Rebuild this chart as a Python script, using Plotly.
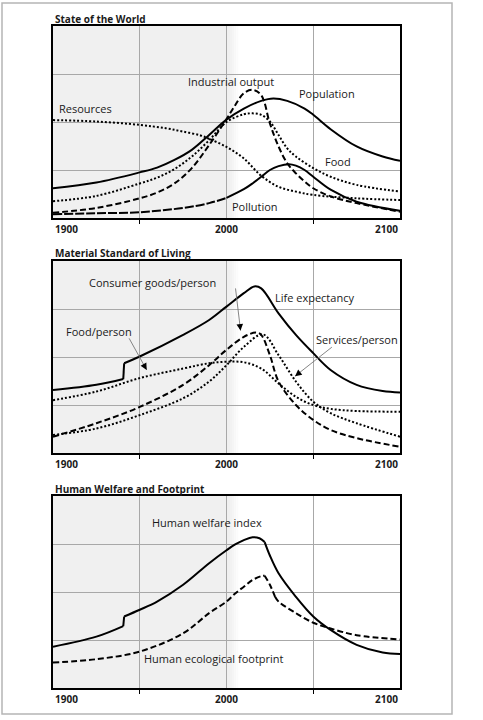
import plotly.graph_objects as go

# ---------------- data ----------------
# Panel 1: State of the World
pop_years = [1900, 1925, 1950, 1960, 1970, 1980, 1990, 2000, 2010, 2020, 2027, 2035, 2045, 2050, 2060, 2075, 2090, 2100]
pop_vals  = [0.62, 0.74, 0.95, 1.05, 1.21, 1.42, 1.73, 2.05, 2.28, 2.44, 2.49, 2.44, 2.28, 2.15, 1.85, 1.49, 1.28, 1.19]

food_years = [1900, 1925, 1950, 1960, 1970, 1980, 1990, 2000, 2010, 2015, 2020, 2025, 2030, 2035, 2040, 2050, 2060, 2075, 2100]
food_vals  = [0.35, 0.46, 0.72, 0.84, 1.02, 1.28, 1.62, 2.00, 2.16, 2.18, 2.15, 2.01, 1.73, 1.45, 1.28, 1.04, 0.86, 0.69, 0.55]

ind_years = [1900, 1925, 1950, 1960, 1970, 1980, 1990, 2000, 2005, 2010, 2015, 2020, 2025, 2030, 2035, 2040, 2045, 2050, 2060, 2075, 2100]
ind_vals  = [0.11, 0.21, 0.41, 0.53, 0.72, 1.04, 1.52, 2.06, 2.35, 2.60, 2.67, 2.56, 1.97, 1.49, 1.14, 0.93, 0.76, 0.62, 0.45, 0.31, 0.13]

res_years = [1900, 1925, 1950, 1965, 1975, 1985, 1990, 2000, 2010, 2020, 2030, 2040, 2050, 2075, 2100]
res_vals  = [2.04, 2.01, 1.94, 1.87, 1.80, 1.72, 1.65, 1.48, 1.24, 0.88, 0.65, 0.55, 0.48, 0.41, 0.375]

pol_years = [1900, 1925, 1950, 1975, 1990, 2000, 2010, 2015, 2020, 2025, 2030, 2036, 2040, 2045, 2050, 2060, 2075, 2100]
pol_vals  = [0.08, 0.10, 0.12, 0.21, 0.31, 0.42, 0.60, 0.72, 0.86, 1.00, 1.08, 1.12, 1.09, 1.00, 0.86, 0.59, 0.34, 0.15]

# Panel 2: Material Standard of Living
life_years = [1900, 1925, 1940.5, 1941, 1950, 1975, 1990, 2000, 2010, 2016, 2020, 2030, 2040, 2050, 2060, 2075, 2090, 2100]
life_vals  = [1.31, 1.42, 1.54, 1.87, 2.01, 2.46, 2.77, 3.05, 3.33, 3.47, 3.43, 2.91, 2.46, 2.08, 1.73, 1.42, 1.29, 1.26]

fpp_years = [1900, 1925, 1950, 1975, 1990, 2000, 2010, 2020, 2030, 2040, 2050, 2060, 2075, 2100]
fpp_vals  = [1.10, 1.28, 1.56, 1.76, 1.87, 1.90, 1.89, 1.76, 1.45, 1.17, 1.00, 0.92, 0.875, 0.86]

cg_years = [1900, 1925, 1950, 1975, 1990, 2000, 2010, 2017, 2020, 2025, 2030, 2040, 2050, 2060, 2075, 2100]
cg_vals  = [0.34, 0.62, 0.96, 1.42, 1.83, 2.15, 2.42, 2.51, 2.46, 2.04, 1.49, 1.00, 0.69, 0.48, 0.31, 0.13]

svc_years = [1900, 1925, 1950, 1975, 1990, 2000, 2010, 2021, 2030, 2040, 2050, 2060, 2075, 2100]
svc_vals  = [0.375, 0.51, 0.79, 1.14, 1.49, 1.83, 2.21, 2.47, 2.04, 1.49, 1.07, 0.83, 0.62, 0.34]

# Panel 3: Human Welfare and Footprint
hwi_years = [1900, 1925, 1940.5, 1941, 1950, 1960, 1975, 1990, 2000, 2005, 2010, 2015, 2019, 2022, 2025, 2030, 2040, 2050, 2060, 2075, 2090, 2100]
hwi_vals  = [0.86, 1.07, 1.29, 1.49, 1.63, 1.80, 2.15, 2.60, 2.87, 2.99, 3.08, 3.14, 3.12, 3.04, 2.76, 2.39, 1.90, 1.49, 1.21, 0.90, 0.74, 0.71]

hef_years = [1900, 1925, 1950, 1975, 1990, 2000, 2005, 2010, 2015, 2020, 2022, 2025, 2028, 2030, 2040, 2050, 2060, 2075, 2100]
hef_vals  = [0.53, 0.60, 0.76, 1.14, 1.56, 1.80, 1.97, 2.11, 2.25, 2.33, 2.34, 2.15, 1.90, 1.80, 1.56, 1.36, 1.24, 1.10, 1.01]

tick_labels = ["1900", "2000", "2100"]
panel_titles = ["State of the World", "Material Standard of Living", "Human Welfare and Footprint"]

# ---------------- layout helpers ----------------
W, H = 483, 720
X0, X1 = 53, 400
panels = [(26, 218), (261, 453), (496, 688)]  # top, bottom in px
FONT = "Open Sans"
TXT = "#1a1a1a"

def py(p):
    return 1 - p / H

fig = go.Figure()

SOLID = dict(color="black", width=2)
DASH = dict(color="black", width=2, dash="6px,3px")
DOT = dict(color="black", width=2, dash="2px,2px")

def add(xs, ys, line, k, breaks=()):
    # split the series at break years (kinks / steps) and draw each piece smoothly
    idx = [0] + [xs.index(b) for b in breaks] + [len(xs) - 1]
    for a, b in zip(idx[:-1], idx[1:]):
        fig.add_trace(go.Scatter(x=xs[a:b + 1], y=ys[a:b + 1], mode="lines",
                                 line=dict(**line, shape="spline", smoothing=1.0),
                                 xaxis=f"x{k}" if k > 1 else "x", yaxis=f"y{k}" if k > 1 else "y",
                                 showlegend=False, hoverinfo="skip"))

# panel 1
split = pol_years.index(2000)
add(pol_years[:split + 1], pol_vals[:split + 1], dict(color="black", width=2, dash="9px,2px"), 1)
add(pol_years[split:], pol_vals[split:], SOLID, 1)
add(res_years, res_vals, DOT, 1)
add(food_years, food_vals, DOT, 1)
add(ind_years, ind_vals, DASH, 1)
add(pop_years, pop_vals, SOLID, 1)
# panel 2
add(fpp_years, fpp_vals, DOT, 2)
add(svc_years, svc_vals, DOT, 2)
add(cg_years, cg_vals, DASH, 2)
add(life_years, life_vals, SOLID, 2, breaks=(1940.5, 1941))
# panel 3
add(hef_years, hef_vals, DASH, 3, breaks=(2022, 2028))
add(hwi_years, hwi_vals, SOLID, 3, breaks=(1940.5, 1941, 2022))

shapes = []
annotations = []
for i, (top, bot) in enumerate(panels):
    k = i + 1
    xa = "xaxis" if k == 1 else f"xaxis{k}"
    ya = "yaxis" if k == 1 else f"yaxis{k}"
    xr = "x" if k == 1 else f"x{k}"
    yr = "y" if k == 1 else f"y{k}"
    fig.update_layout(**{
        xa: dict(domain=[X0 / W, X1 / W], range=[1900, 2100], anchor=yr,
                 showline=True, mirror=True, linecolor="black", linewidth=1.6,
                 tickvals=[1950, 2000, 2050], ticks="", showticklabels=False,
                 showgrid=True, gridcolor="#a8a8a8", gridwidth=1.3, zeroline=False,
                 minor=dict(tick0=1950, dtick=100, ticks="outside", ticklen=4,
                            tickcolor="black", tickwidth=1.2, showgrid=False),
                 fixedrange=True),
        ya: dict(domain=[py(bot), py(top)], range=[0, 4], anchor=xr,
                 showline=True, mirror=True, linecolor="black", linewidth=1.6,
                 tickvals=[1, 2, 3], ticks="", showticklabels=False,
                 showgrid=True, gridcolor="#a8a8a8", gridwidth=1.3, zeroline=False,
                 fixedrange=True),
    })
    # historical shading with soft edge
    shapes.append(dict(type="rect", xref=xr, yref=yr, x0=1900, x1=2002, y0=0, y1=4,
                       fillcolor="#f0f0f0", line=dict(width=0), layer="below"))
    for j, c in enumerate(["#f2f2f2", "#f5f5f5", "#f8f8f8", "#fbfbfb"]):
        shapes.append(dict(type="rect", xref=xr, yref=yr, x0=2002 + j * 1.2, x1=2003.2 + j * 1.2,
                           y0=0, y1=4, fillcolor=c, line=dict(width=0), layer="below"))
    # title
    annotations.append(dict(text=f"<b>{panel_titles[i]}</b>", xref="paper", yref="paper",
                            x=X0 / W, y=py(top - 7.5), xanchor="left", yanchor="middle",
                            showarrow=False, font=dict(family=FONT, size=10, color=TXT)))
    # tick labels
    for lab, anc in zip(tick_labels, ["left", "center", "right"]):
        annotations.append(dict(text=f"<b>{lab}</b>", xref=xr, yref="paper", x=float(lab),
                                y=py(bot + 11), xanchor=anc, yanchor="middle", showarrow=False,
                                font=dict(family=FONT, size=10, color=TXT)))

def label(text, x, y, k):
    xr = "x" if k == 1 else f"x{k}"
    yr = "y" if k == 1 else f"y{k}"
    annotations.append(dict(text=text, xref=xr, yref=yr, x=x, y=y, showarrow=False,
                            xanchor="center", yanchor="middle",
                            font=dict(family=FONT, size=11, color=TXT)))

label("Industrial output", 2002.6, 2.84, 1)
label("Population", 2058, 2.59, 1)
label("Resources", 1919, 2.28, 1)
label("Food", 2064, 1.18, 1)
label("Pollution", 2016.4, 0.24, 1)

label("Consumer goods/person", 1957.3, 3.56, 2)
label("Life expectancy", 2051, 3.23, 2)
label("Food/person", 1926.7, 2.54, 2)
label("Services/person", 2075.4, 2.37, 2)

label("Human welfare index", 1988.9, 3.44, 3)
label("Human ecological footprint", 1993, 0.62, 3)

def arrow(tail, head):
    # gray shaft
    annotations.append(dict(text="", xref="x2", yref="y2", axref="x2", ayref="y2",
                            x=head[0], y=head[1], ax=tail[0], ay=tail[1], showarrow=True,
                            arrowhead=0, arrowwidth=0.9, arrowcolor="#777777"))
    # black head
    fx = head[0] - (head[0] - tail[0]) * 0.12
    fy = head[1] - (head[1] - tail[1]) * 0.12
    annotations.append(dict(text="", xref="x2", yref="y2", axref="x2", ayref="y2",
                            x=head[0], y=head[1], ax=fx, ay=fy, showarrow=True,
                            arrowhead=2, arrowsize=1.1, arrowwidth=1.2, arrowcolor="black"))

arrow((2005.1, 3.46), (2008.1, 2.55))
arrow((1943.4, 2.42), (1954.0, 1.73))
arrow((2061.6, 2.23), (2039.5, 1.60))

# outer frame
shapes.append(dict(type="rect", xref="paper", yref="paper", x0=2 / W, x1=452 / W,
                   y0=py(714), y1=py(3), line=dict(color="#b5b5b5", width=1.5),
                   fillcolor="rgba(0,0,0,0)", layer="below"))

fig.update_layout(width=W, height=H, margin=dict(l=0, r=0, t=0, b=0),
                  paper_bgcolor="white", plot_bgcolor="white",
                  shapes=shapes, annotations=annotations, showlegend=False)

fig.write_html("out.html", config={"displayModeBar": False})
